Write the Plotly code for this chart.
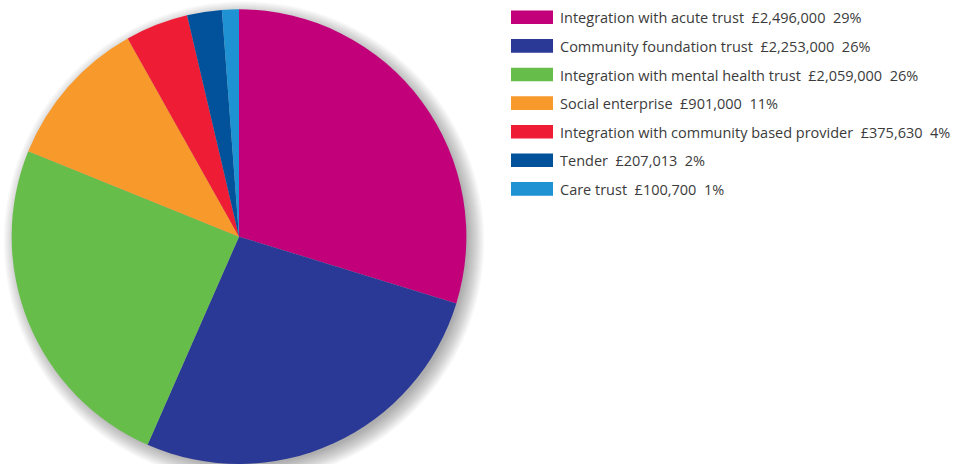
import plotly.graph_objects as go

# Funding by integration model
categories = [
    "Integration with acute trust",
    "Community foundation trust",
    "Integration with mental health trust",
    "Social enterprise",
    "Integration with community based provider",
    "Tender",
    "Care trust",
]
amounts = [2496000, 2253000, 2059000, 901000, 375630, 207013, 100700]
pct_labels = ["29%", "26%", "26%", "11%", "4%", "2%", "1%"]
colors = ["#C1007A", "#2A3996", "#66BD4A", "#F7992B", "#EE1D35", "#02519B", "#1F92D3"]

W, H = 969, 464
cx, cy, r = 239, 236.6, 227.4  # pie centre / radius in px

fig = go.Figure()
fig.add_trace(go.Pie(
    labels=categories,
    values=amounts,
    marker=dict(colors=colors, line=dict(width=0)),
    sort=False,
    direction="clockwise",
    rotation=0,
    textinfo="none",
    hoverinfo="label+value+percent",
    showlegend=False,
    domain=dict(x=[11 / W, 467 / W], y=[0, 0.98]),
))

shapes = []
# soft drop shadow behind the pie, offset towards the lower right
for i in range(-4, 14):
    rr = r + i
    ox, oy = 5.0, 5.0
    shapes.append(dict(
        type="circle", xref="paper", yref="paper", layer="below",
        x0=(cx + ox - rr) / W, x1=(cx + ox + rr) / W,
        y0=1 - (cy + oy + rr) / H, y1=1 - (cy + oy - rr) / H,
        fillcolor="rgba(40,40,50,0.022)", line=dict(width=0),
    ))

annotations = []
gap = "\u00a0\u00a0"
row0, step = 17.3, 28.6
for i, (cat, amt, pct, col) in enumerate(zip(categories, amounts, pct_labels, colors)):
    yc = row0 + i * step
    shapes.append(dict(
        type="rect", xref="paper", yref="paper",
        x0=511 / W, x1=553 / W,
        y0=1 - (yc + 6.8) / H, y1=1 - (yc - 6.8) / H,
        fillcolor=col, line=dict(width=0),
    ))
    annotations.append(dict(
        xref="paper", yref="paper", x=558 / W, y=1 - (yc + 0.5) / H,
        xanchor="left", yanchor="middle", showarrow=False,
        text=f"{cat}{gap}£{amt:,}{gap}{pct}",
        font=dict(family="Open Sans", size=14.5, color="#3B3B3B"),
    ))

fig.update_layout(
    width=W, height=H,
    margin=dict(l=0, r=0, t=0, b=0),
    paper_bgcolor="white", plot_bgcolor="white",
    shapes=shapes, annotations=annotations,
)

fig.write_html("out.html")
